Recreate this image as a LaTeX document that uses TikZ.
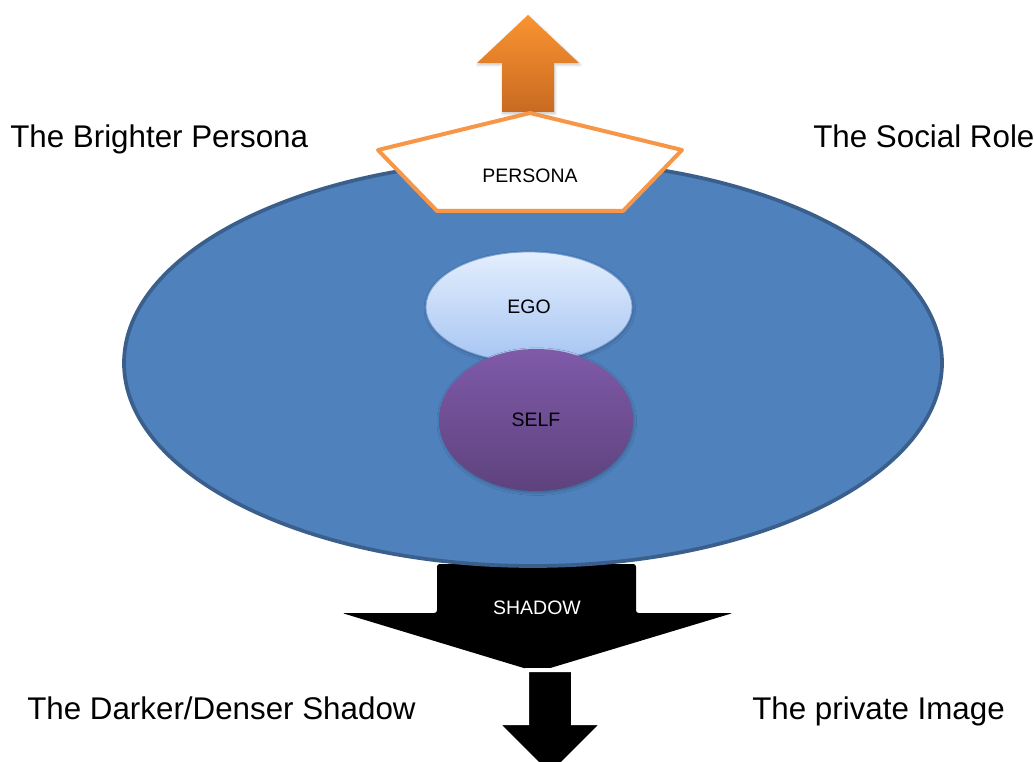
\documentclass[tikz,border=0pt]{standalone}
\usepackage{fontspec}
\setmainfont{Liberation Sans}
\usetikzlibrary{shapes.geometric,shadows.blur}
\definecolor{coreblue}{HTML}{4F81BD}
\definecolor{coreedge}{HTML}{3A5F8C}
\definecolor{personaedge}{HTML}{F79646}
\definecolor{arrowtop}{HTML}{FA9330}
\definecolor{arrowbot}{HTML}{C96A22}
\definecolor{egotop}{HTML}{E4EEFD}
\definecolor{egobot}{HTML}{A6C5F3}
\definecolor{egoedge}{HTML}{7FA3D8}
\definecolor{selftop}{HTML}{7F5AA9}
\definecolor{selfbot}{HTML}{5E427D}
\tikzset{
  sidelabel/.style={font=\fontsize{23.5}{28}\selectfont, inner sep=0pt, anchor=base west},
  innerlabel/.style={font=\fontsize{14.6}{17}\selectfont, inner sep=0pt},
  soft/.style={blur shadow={shadow xshift=0.6pt, shadow yshift=-1.2pt, shadow opacity=25, shadow blur steps=6}},
}
\begin{document}
\begin{tikzpicture}[x=0.75pt,y=-0.75pt]
\useasboundingbox (0,0) rectangle (1034,762);
\clip (0,0) rectangle (1034,762);

% wide downward arrow below the core
\fill[black, rounded corners=2pt]
  (437,564) -- (636,564) -- (636,613) -- (733,613) -- (537,672)
  -- (342,613) -- (437,613) -- cycle;
\node[innerlabel, text=white] (shadow) at (537,608) {SHADOW};

% small arrow continuing downward
\filldraw[black, draw=white, line width=3pt, line join=miter]
  (527,670) -- (573,670) -- (573,723) -- (603,723) -- (550,776)
  -- (497,723) -- (527,723) -- cycle;

% the core ellipse
\node[ellipse, draw=coreedge, line width=2.8pt, fill=coreblue,
      minimum width=613.5pt, minimum height=304.5pt, inner sep=0pt] (core) at (533,363) {};

% ego and self
\node[ellipse, soft, draw=egoedge, line width=0.6pt, top color=egotop, bottom color=egobot,
      minimum width=154.5pt, minimum height=82.5pt, inner sep=0pt] (ego) at (529,307) {};
\node[innerlabel] at (ego.center) {EGO};
\node[ellipse, soft, top color=selftop, bottom color=selfbot,
      minimum width=145.5pt, minimum height=106.5pt, inner sep=0pt] (self) at (536,420) {};
\node[innerlabel] at (self.center) {SELF};

% upward arrow above the persona
\path[soft, top color=arrowtop, bottom color=arrowbot]
  (502,112) -- (502,63) -- (477,63) -- (528,15) -- (579,63) -- (554,63) -- (554,112) -- cycle;

% persona pentagon
\filldraw[fill=white, draw=personaedge, line width=3pt, line join=round]
  (530,113) -- (682,150) -- (623,211) -- (437,211) -- (378,150) -- cycle;
\node[innerlabel] (persona) at (530,176) {PERSONA};

% side captions
\node[sidelabel] (bright) at (10,148) {The Brighter Persona};
\node[sidelabel] (social) at (813,148) {The Social Role};
\node[sidelabel] (dark) at (27,719) {The Darker/Denser Shadow};
\node[sidelabel] (private) at (752,719) {The private Image};
\end{tikzpicture}
\end{document}
